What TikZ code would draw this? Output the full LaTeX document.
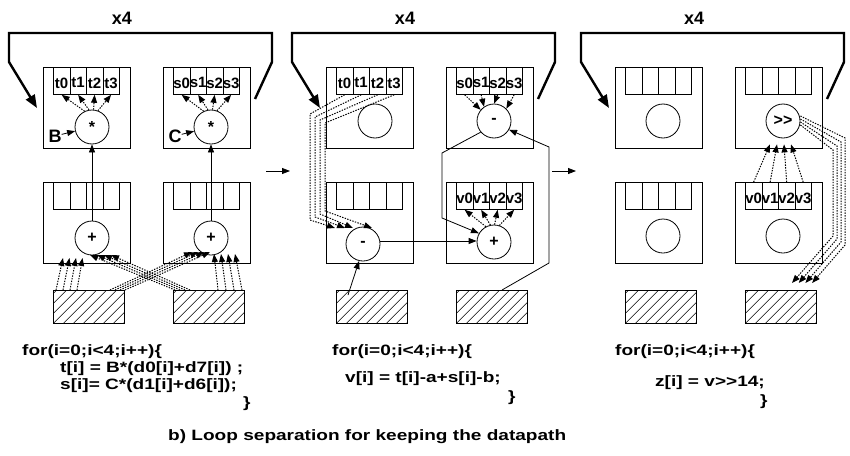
\documentclass[tikz,border=0pt]{standalone}
\usepackage{fontspec}
\setmainfont{Liberation Sans}
\newfontfamily\codefont[FakeStretch=1.27]{Liberation Sans}
\usetikzlibrary{arrows.meta,calc}
\begin{document}
\begin{tikzpicture}[x=1pt,y=-1pt,
  lab/.style={inner sep=0,font=\bfseries\fontsize{18}{18}\selectfont},
  lbl/.style={inner sep=0,yshift=-2pt,font=\bfseries\fontsize{15}{15}\selectfont},
  unit/.style={draw,line width=0.8pt,minimum width=87pt,minimum height=81pt,anchor=north west,inner sep=0},
  cell/.style={draw,line width=0.8pt,minimum width=16.5pt,minimum height=27pt,anchor=north west,inner sep=0},
  op/.style={draw,circle,line width=0.8pt,minimum size=34pt,inner sep=0,font=\bfseries\fontsize{16}{16}\selectfont},
  mem/.style={draw,line width=0.8pt,minimum width=71pt,minimum height=33pt,anchor=north west,inner sep=0,
    path picture={\foreach \k in {-40,-30,...,80}
      \draw[line width=0.5pt] ([xshift=\k pt]path picture bounding box.south west) -- ++(45,-45);}},
  loopbar/.style={line width=2.4pt,line join=miter},
  tip/.style={-{Triangle[length=8pt,width=6pt]}},
  wire/.style={line width=0.8pt,tip},
  dots/.style={line width=1pt,dash pattern=on 1.4pt off 1.3pt,tip},
  code/.style={anchor=west,inner sep=0,font=\codefont\bfseries\fontsize{15}{15}\selectfont},
]
\useasboundingbox (0,0) rectangle (850,455);

% common frame of each of the three loop stages
\foreach \p/\ox in {1/0,2/283,3/572}{
  \begin{scope}[xshift=\ox pt]
    \node[lab] (xf\p) at (122,18) {x4};
    \coordinate (lin\p) at (37,108);
    \coordinate (lout\p) at (255,99);
    \draw[loopbar,-{Triangle[length=13pt,width=10pt]}] (lout\p) -- (272,62) -- (272,33) -- (9,33) -- (9,62) -- (lin\p);
    \node[unit] (utl\p) at (43,67) {};
    \node[unit] (utr\p) at (163,67) {};
    \node[unit] (ubl\p) at (43,182) {};
    \node[unit] (ubr\p) at (163,182) {};
    \foreach \c in {0,...,3}{
      \node[cell] (ctl\p\c) at (53+16.5*\c,67) {};
      \node[cell] (ctr\p\c) at (173+16.5*\c,67) {};
      \node[cell] (cbl\p\c) at (53+16.5*\c,182) {};
      \node[cell] (cbr\p\c) at (173+16.5*\c,182) {};
    }
    \node[mem] (ml\p) at (53,290) {};
    \node[mem] (mr\p) at (173,290) {};
  \end{scope}
}

% register contents
\foreach \c in {0,...,3}{
  \node[lbl] at (ctl1\c) {t\c};
  \node[lbl] at (ctr1\c) {s\c};
  \node[lbl] at (ctl2\c) {t\c};
  \node[lbl] at (ctr2\c) {s\c};
  \node[lbl] at (cbr2\c) {v\c};
  \node[lbl] at (cbr3\c) {v\c};
}

% stage arrows
\coordinate (sa1) at (266,171); \coordinate (sb1) at (290,171);
\coordinate (sa2) at (552,171); \coordinate (sb2) at (576,171);
\draw[wire] (sa1) -- (sb1);
\draw[wire] (sa2) -- (sb2);

% ---------- stage 1 ----------
\node[op] (a1) at (92,127) {*};
\node[op] (b1) at (211,127) {*};
\node[op] (c1) at (92,238) {+};
\node[op] (d1) at (211,238) {+};
\node[lab] (kB) at (55,136) {B};
\node[lab] (kC) at (175,136) {C};
\draw[wire] (kB) -- (a1);
\draw[wire] (kC) -- (b1);
\draw[wire] (c1) -- (a1);
\draw[wire] (d1) -- (b1);
\foreach \c/\a in {0/115,1/100,2/85,3/70}{
  \draw[dots] (a1.\a) -- (ctl1\c.south);
  \draw[dots] (b1.\a) -- (ctr1\c.south);
}
\foreach \k in {0,...,3}{
  \draw[dots] ($(ml1.north west)+(3+7*\k,0)$) -- ($(c1)+(-29+6.5*\k,20)$);
  \draw[dots] ($(ml1.north west)+(57+5*\k,0)$) -- ($(d1)+(-19+6*\k,14)$);
  \draw[dots] ($(mr1.north west)+(2+5*\k,0)$) -- ($(c1)+(-2+7*\k,17)$);
  \draw[dots] ($(mr1.north west)+(45+8*\k,0)$) -- ($(d1)+(3+7*\k,16)$);
}

% ---------- stage 2 ----------
\node[op] (e2) at (375,121) {};
\node[op] (f2) at (494,121) {-};
\node[op] (g2) at (363,244) {-};
\node[op] (h2) at (494,242) {+};
\foreach \c/\a in {0/140,1/125,2/90,3/45}{
  \draw[dots] (ctr2\c.south) -- (f2.\a);
}
\foreach \c/\a in {0/118,1/102,2/88,3/72}{
  \draw[dots] (h2.\a) -- (cbr2\c.south);
}
\foreach \k/\tx in {0/335,1/345,2/353,3/372}{
  \draw[dots] (ctl2\k.south) -- (310+5*\k,114+3*\k) -- (310+5*\k,220-3*\k) -- (\tx,228);
}
\coordinate (m2s) at (348,295);
\draw[wire] (m2s) -- (g2.257);
\draw[wire] (g2.10) -- (g2.10 -| h2.west);
\coordinate (f2a) at (442,153);
\coordinate (f2b) at (442,218);
\draw[wire] (f2.220) -- (f2a) -- (f2b) -- (h2.150);
\coordinate (r2s) at (502,290);
\coordinate (r2a) at (549,263);
\coordinate (r2b) at (549,147);
\draw[wire] (r2s) -- (r2a) -- (r2b) -- (f2.-30);

% ---------- stage 3 ----------
\node[op] (i3) at (663,121) {};
\node[op] (j3) at (783,121) {>{}>};
\node[op] (k3) at (663,236) {};
\node[op] (l3) at (783,236) {};
\foreach \c in {0,...,3}{
  \draw[dots] (cbr3\c.north) -- ($(j3.south)+(-13+7*\c,6)$);
}
\foreach \k in {0,...,3}{
  \draw[dots] ($(j3.east)+(0,4-3*\k)$) -- (833+4*\k,150-4*\k) -- (833+4*\k,236+3*\k) -- (792+6.7*\k,283);
}

% ---------- loop bodies ----------
\node[code] (p1a) at (22,352) {for(i=0;i<4;i++)\{};
\node[code] (p1b) at (60,369) {t[i] = B*(d0[i]+d7[i]) ;};
\node[code] (p1c) at (60,386) {s[i]= C*(d1[i]+d6[i]);};
\node[code] (p1d) at (243,404) {\}};
\node[code] (p2a) at (332,352) {for(i=0;i<4;i++)\{};
\node[code] (p2b) at (345,379) {v[i] = t[i]-a+s[i]-b;};
\node[code] (p2c) at (508,398) {\}};
\node[code] (p3a) at (615,352) {for(i=0;i<4;i++)\{};
\node[code] (p3b) at (655,383) {z[i] = v>{}>14;};
\node[code] (p3c) at (760,402) {\}};
\node[code] (cap) at (168,437) {b) Loop separation for keeping the datapath};
\end{tikzpicture}
\end{document}
